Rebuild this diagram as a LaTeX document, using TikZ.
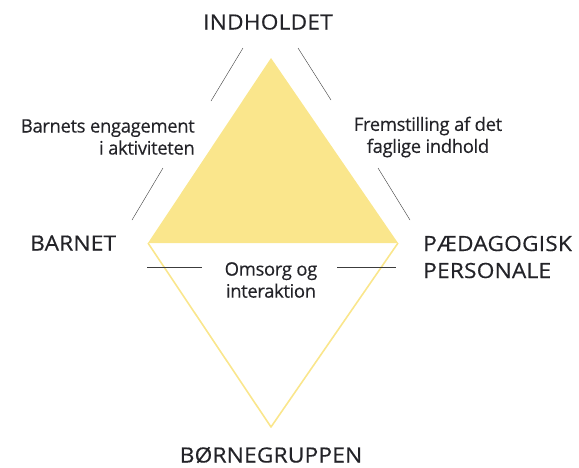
\documentclass[tikz,border=0pt]{standalone}
\usepackage{fontspec}
\setmainfont{Open Sans}
\definecolor{gul}{RGB}{250,230,140}
\definecolor{streg}{RGB}{60,60,60}
\definecolor{tekst}{RGB}{35,35,40}
\tikzset{
  hoved/.style={font=\fontsize{21}{27}\selectfont\addfontfeatures{LetterSpace=1,FakeStretch=1.08,FakeBold=0.4},text=tekst,inner sep=0pt},
  felt/.style={font=\fontsize{18.5}{22}\selectfont\addfontfeatures{LetterSpace=-2,FakeBold=0.3},text=tekst,inner sep=0pt},
}
\begin{document}
\begin{tikzpicture}[x=1pt,y=-1pt]
		\useasboundingbox (0,0) rectangle (579,467);
		\path (271,58) coordinate (top)
		(148,243) coordinate (venstre)
		(398,243) coordinate (hoejre)
		(271,427) coordinate (bund);
		\fill[gul] (top) -- (venstre) -- (hoejre) -- cycle;
		\draw[gul,line width=1.6pt,line join=round] (venstre) -- (bund) -- (hoejre);
		\node[hoved] (indhold) at (268,22) {INDHOLDET};
		\node[hoved,anchor=west] (barn) at (30,243) {BARNET};
		\node[hoved,anchor=west,align=left] (personale) at (423,257) {PÆDAGOGISK\\PERSONALE};
		\node[hoved] (gruppe) at (271,455) {BØRNEGRUPPEN};
		\node[felt,align=right,anchor=east] (engagement) at (195,137) {Barnets engagement\\i aktiviteten};
		\node[felt,align=center] (fremstilling) at (428,137) {Fremstilling af det\\faglige indhold};
		\node[felt,align=center] (omsorg) at (271,280) {Omsorg og\\interaktion};
		\draw[streg] (211,101) -- (243,48);
		\draw[streg] (298,48) -- (331,100);
		\draw[streg] (132,220) -- (163,168);
		\draw[streg] (378,168) -- (410,220);
		\draw[streg] (147,267) -- (202,267);
		\draw[streg] (337,267) -- (396,267);
\end{tikzpicture}
\end{document}
